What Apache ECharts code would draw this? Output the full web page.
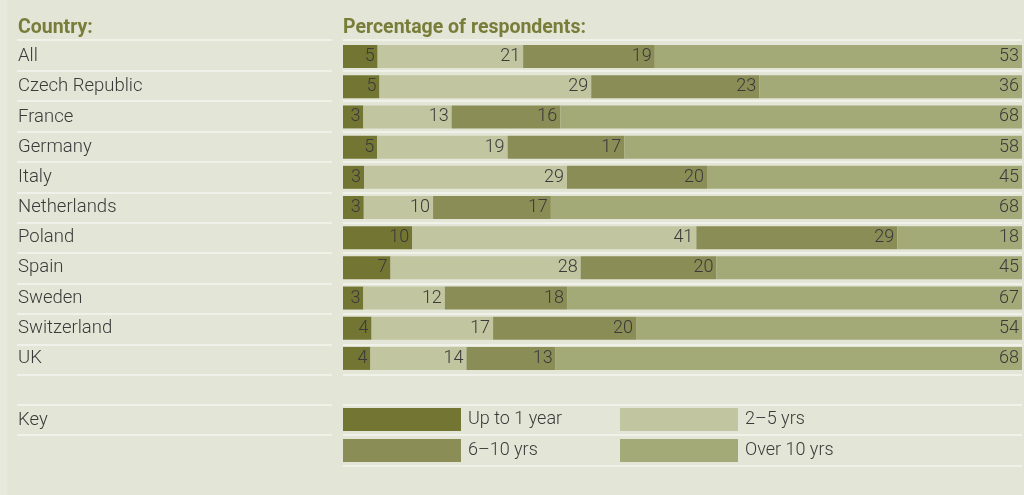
<!DOCTYPE html>
<html>
<head>
<meta charset="utf-8">
<script src="https://cdn.jsdelivr.net/npm/echarts@6/dist/echarts.min.js"></script>
<style>
  html, body { margin: 0; padding: 0; background: #e3e5d6; }
  #chart { width: 1024px; height: 495px; }
</style>
</head>
<body>
<div id="chart"></div>
<script>
// Length of time respondents have spent in their role, by country (%)
const countries = ['All', 'Czech Republic', 'France', 'Germany', 'Italy', 'Netherlands',
  'Poland', 'Spain', 'Sweden', 'Switzerland', 'UK'];
const seriesNames = ['Up to 1 year', '2–5 yrs', '6–10 yrs', 'Over 10 yrs'];
const upToOneYear = [5, 5, 3, 5, 3, 3, 10, 7, 3, 4, 4];
const twoToFive   = [21, 29, 13, 19, 29, 10, 41, 28, 12, 17, 14];
const sixToTen    = [19, 23, 16, 17, 20, 17, 29, 20, 18, 20, 13];
const overTen     = [53, 36, 68, 58, 45, 68, 18, 45, 67, 54, 68];

const valueSets = [upToOneYear, twoToFive, sixToTen, overTen];
const colors = ['#737633', '#c1c5a0', '#8a8d56', '#a4a978'];

// each row is shown as shares of its own total so every bar spans the full width
const rowTotals = countries.map((_, i) => valueSets.reduce((s, arr) => s + arr[i], 0));

const ink = '#3a3a3a';
const font = 'Roboto, "Liberation Sans", sans-serif';
const ruleColor = '#f4f5ee';

const series = valueSets.map((arr, k) => ({
  name: seriesNames[k],
  type: 'bar',
  stack: 'share',
  barWidth: 23,
  xAxisIndex: 0,
  yAxisIndex: 0,
  itemStyle: { color: colors[k] },
  emphasis: { disabled: true },
  data: arr.map((v, i) => v / rowTotals[i] * 100),
  label: {
    show: true,
    position: 'insideRight',
    distance: 3,
    color: ink,
    fontFamily: font,
    fontWeight: 300,
    fontSize: 18,
    formatter: p => String(valueSets[p.seriesIndex][p.dataIndex])
  }
}));

// key: two columns, two rows
const keySlots = [
  { left: 343, top: 408 }, { left: 620, top: 408 },
  { left: 343, top: 439 }, { left: 620, top: 439 }
];
const legends = seriesNames.map((name, k) => ({
  data: [name], left: keySlots[k].left, top: keySlots[k].top, padding: 0,
  icon: 'rect', itemWidth: 118, itemHeight: 23,
  selectedMode: false,
  textStyle: { color: ink, fontFamily: font, fontWeight: 300, fontSize: 18, padding: [0, 0, 0, 2] }
}));

// a category axis used only to draw the row rules
const ruleAxis = gridIndex => ({
  gridIndex, type: 'category', inverse: true, data: countries,
  axisLine: { show: false }, axisTick: { show: false }, axisLabel: { show: false },
  splitLine: { show: true, lineStyle: { color: ruleColor, width: 1.5 } }
});

const option = {
  backgroundColor: '#e3e5d6',
  animation: false,
  grid: [
    { left: 343, right: 2, top: 41.5, height: 332 },   // bars and country names
    { left: 17, width: 315, top: 40, height: 335 },    // rules, country column
    { left: 343, right: 2, top: 40, height: 335 }      // rules, bar column
  ],
  xAxis: [
    { gridIndex: 0, type: 'value', min: 0, max: 100, show: false },
    { gridIndex: 1, type: 'value', min: 0, max: 100, show: false },
    { gridIndex: 2, type: 'value', min: 0, max: 100, show: false }
  ],
  yAxis: [
    {
      gridIndex: 0, type: 'category', inverse: true, data: countries,
      axisLine: { show: false }, axisTick: { show: false }, splitLine: { show: false },
      axisLabel: { align: 'left', margin: 325, color: ink, fontFamily: font, fontWeight: 300, fontSize: 18.5 }
    },
    ruleAxis(1),
    ruleAxis(2)
  ],
  legend: legends,
  graphic: [
    { type: 'rect', left: 0, top: 0, shape: { width: 7, height: 495 }, style: { fill: '#e7e9dd' }, silent: true },
    { type: 'text', x: 18, y: 28, style: { text: 'Country:', fill: '#787d39', font: 'bold 19.5px ' + font, verticalAlign: 'middle' } },
    { type: 'text', x: 343, y: 28, style: { text: 'Percentage of respondents:', fill: '#787d39', font: 'bold 19.5px ' + font, verticalAlign: 'middle' } },
    { type: 'text', x: 18, y: 420, style: { text: 'Key', fill: ink, font: '300 18.5px ' + font, verticalAlign: 'middle' } },
    // rules around the key
    { type: 'line', shape: { x1: 17, y1: 405, x2: 332, y2: 405 }, style: { stroke: ruleColor, lineWidth: 1.5 } },
    { type: 'line', shape: { x1: 17, y1: 435, x2: 332, y2: 435 }, style: { stroke: ruleColor, lineWidth: 1.5 } },
    { type: 'line', shape: { x1: 343, y1: 405, x2: 1022, y2: 405 }, style: { stroke: ruleColor, lineWidth: 1.5 } },
    { type: 'line', shape: { x1: 343, y1: 435, x2: 1022, y2: 435 }, style: { stroke: ruleColor, lineWidth: 1.5 } },
    { type: 'line', shape: { x1: 343, y1: 466, x2: 1022, y2: 466 }, style: { stroke: ruleColor, lineWidth: 1.5 } }
  ],
  series: series
};

const chart = echarts.init(document.getElementById('chart'), null, { renderer: 'canvas' });
chart.setOption(option);
</script>
</body>
</html>
